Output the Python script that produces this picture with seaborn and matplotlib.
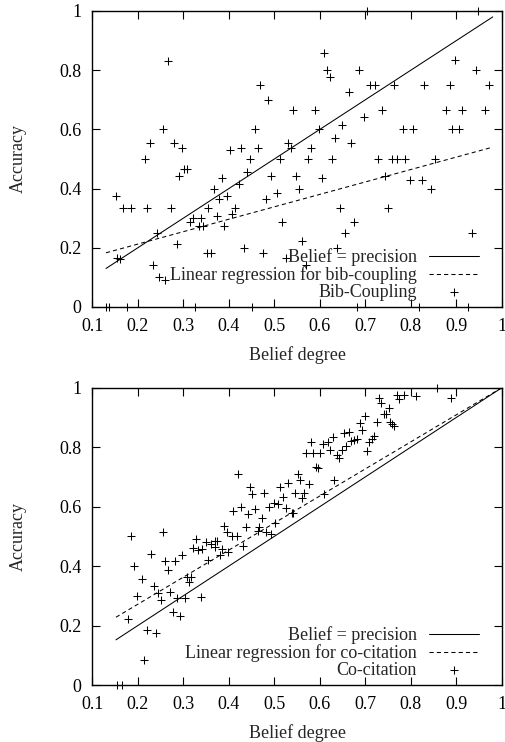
import numpy as np
import pandas as pd
import matplotlib
matplotlib.use("Agg")
import matplotlib.pyplot as plt
import seaborn as sns

# bib-coupling: belief degree vs accuracy
bib_x = [0.216, 0.227, 0.255, 0.266, 0.280, 0.296, 0.302, 0.309, 0.402, 0.427,
         0.446, 0.457, 0.464, 0.469, 0.487, 0.512, 0.530, 0.536, 0.542, 0.589,
         0.609, 0.615, 0.622, 0.663, 0.687, 0.703, 0.710, 0.721, 0.762, 0.829,
         0.885, 0.897, 0.943, 0.948, 0.971, 0.696, 0.737, 0.877, 0.913, 0.963,
         0.649, 0.598, 0.782, 0.805, 0.891, 0.906, 0.633, 0.668, 0.581, 0.575,
         0.627, 0.727, 0.758, 0.770, 0.788, 0.852, 0.151, 0.168, 0.184, 0.221,
         0.274, 0.155, 0.161, 0.233, 0.247, 0.260, 0.243, 0.285, 0.291, 0.315,
         0.322, 0.338, 0.334, 0.344, 0.355, 0.351, 0.361, 0.367, 0.373, 0.378,
         0.385, 0.389, 0.397, 0.408, 0.413, 0.422, 0.433, 0.440, 0.475, 0.481,
         0.493, 0.506, 0.516, 0.525, 0.129, 0.137, 0.176, 0.326, 0.452, 0.547,
         0.554, 0.604, 0.561, 0.570, 0.638, 0.644, 0.655, 0.675, 0.744, 0.750,
         0.798, 0.824, 0.844, 0.935, 0.681, 0.818, 0.926]
bib_y = [0.50, 0.555, 0.60, 0.83, 0.555, 0.537, 0.465, 0.465, 0.532, 0.537,
         0.50, 0.60, 0.537, 0.75, 0.70, 0.50, 0.555, 0.537, 0.667, 0.667,
         0.857, 0.80, 0.778, 0.727, 0.80, 1.0, 0.75, 0.75, 0.75, 0.75,
         0.75, 0.833, 0.80, 1.0, 0.75, 0.643, 0.667, 0.667, 0.667, 0.667,
         0.615, 0.60, 0.60, 0.60, 0.60, 0.60, 0.571, 0.555, 0.537, 0.50,
         0.50, 0.50, 0.50, 0.50, 0.50, 0.50, 0.375, 0.333, 0.333, 0.333,
         0.333, 0.167, 0.162, 0.143, 0.10, 0.091, 0.25, 0.214, 0.444, 0.286,
         0.30, 0.30, 0.273, 0.273, 0.333, 0.182, 0.182, 0.40, 0.308, 0.364,
         0.435, 0.273, 0.375, 0.314, 0.333, 0.417, 0.20, 0.455, 0.182, 0.364,
         0.444, 0.385, 0.286, 0.167, 0.0, 0.0, 0.0, 0.0, 0.0, 0.444,
         0.40, 0.435, 0.222, 0.143, 0.20, 0.333, 0.25, 0.286, 0.444, 0.333,
         0.429, 0.429, 0.40, 0.25, 0.0, 0.0, 0.0]

# co-citation: belief degree vs accuracy
cocit_x = [0.185, 0.256, 0.328, 0.421, 0.447, 0.452, 0.478, 0.513, 0.529, 0.519,
           0.427, 0.410, 0.457, 0.442, 0.472, 0.488, 0.500, 0.509, 0.525, 0.390,
           0.395, 0.437, 0.466, 0.406, 0.417, 0.464, 0.482, 0.493, 0.502, 0.192,
           0.229, 0.209, 0.198, 0.178, 0.235, 0.244, 0.250, 0.221, 0.241, 0.214,
           0.260, 0.266, 0.282, 0.298, 0.271, 0.277, 0.287, 0.293, 0.303, 0.307,
           0.316, 0.313, 0.339, 0.322, 0.332, 0.340, 0.349, 0.360, 0.369, 0.375,
           0.370, 0.384, 0.354, 0.381, 0.399, 0.431, 0.154, 0.166, 0.551, 0.556,
           0.576, 0.545, 0.565, 0.560, 0.538, 0.540, 0.610, 0.631, 0.592, 0.596,
           0.570, 0.586, 0.601, 0.581, 0.606, 0.617, 0.628, 0.622, 0.638, 0.642,
           0.648, 0.652, 0.663, 0.658, 0.669, 0.675, 0.681, 0.688, 0.693, 0.699,
           0.704, 0.709, 0.714, 0.720, 0.725, 0.729, 0.735, 0.740, 0.745, 0.751,
           0.755, 0.759, 0.762, 0.770, 0.775, 0.785, 0.811, 0.857, 0.888]
cocit_y = [0.50, 0.513, 0.49, 0.71, 0.667, 0.643, 0.645, 0.667, 0.678, 0.632,
           0.60, 0.585, 0.593, 0.574, 0.562, 0.60, 0.611, 0.608, 0.596, 0.534,
           0.515, 0.532, 0.532, 0.50, 0.50, 0.518, 0.515, 0.507, 0.546, 0.40,
           0.44, 0.357, 0.30, 0.222, 0.333, 0.308, 0.286, 0.184, 0.175, 0.085,
           0.417, 0.387, 0.417, 0.438, 0.314, 0.246, 0.293, 0.231, 0.293, 0.364,
           0.364, 0.345, 0.296, 0.462, 0.454, 0.457, 0.48, 0.474, 0.484, 0.484,
           0.463, 0.457, 0.42, 0.438, 0.449, 0.466, 0.0, 0.0, 0.709, 0.689,
           0.676, 0.646, 0.646, 0.63, 0.579, 0.579, 0.644, 0.689, 0.734, 0.729,
           0.782, 0.78, 0.782, 0.819, 0.812, 0.816, 0.833, 0.79, 0.772, 0.765,
           0.79, 0.846, 0.85, 0.804, 0.821, 0.823, 0.827, 0.88, 0.859, 0.904,
           0.786, 0.818, 0.829, 0.837, 0.885, 0.964, 0.95, 0.913, 0.913, 0.932,
           0.885, 0.877, 0.871, 0.977, 0.961, 0.977, 0.971, 1.0, 0.966]

# end points of the straight lines
bib_line_x = [0.13, 0.98]
bib_reg_y = [0.183, 0.54]
cocit_line_x = [0.152, 1.0]
cocit_reg_y = [0.228, 1.0]

xticks = [0.1, 0.2, 0.3, 0.4, 0.5, 0.6, 0.7, 0.8, 0.9, 1.0]
xtick_labels = ["0.1", "0.2", "0.3", "0.4", "0.5", "0.6", "0.7", "0.8", "0.9", "1"]
yticks = [0, 0.2, 0.4, 0.6, 0.8, 1.0]
ytick_labels = ["0", "0.2", "0.4", "0.6", "0.8", "1"]

sns.set_style("ticks")
plt.rcParams['font.family'] = ['Liberation Serif', 'DejaVu Serif']
FS = 13

fig = plt.figure(figsize=(5.05, 7.42), dpi=100)
ax1 = fig.add_axes([0.1828, 0.5863, 0.811, 0.3989])
ax2 = fig.add_axes([0.1828, 0.0768, 0.811, 0.4007])

panels = [
    (ax1, bib_x, bib_y, bib_line_x, bib_reg_y,
     "Linear regression for bib-coupling", "Bib-Coupling"),
    (ax2, cocit_x, cocit_y, cocit_line_x, cocit_reg_y,
     "Linear regression for co-citation", "Co-citation"),
]

for ax, px, py, lx, ry, reg_label, pts_label in panels:
    sns.lineplot(x=lx, y=lx, ax=ax, color="black", linewidth=0.75,
                 label="Belief = precision")
    sns.lineplot(x=lx, y=ry, ax=ax, color="black", linewidth=0.75,
                 linestyle=(0, (4, 3)), label=reg_label)
    sns.scatterplot(x=px, y=py, ax=ax, marker="+", color="black", s=28,
                    linewidth=0.75, clip_on=False, label=pts_label)

    ax.set_xlim(0.1, 1.0)
    ax.set_ylim(0, 1.0)
    ax.set_xticks(xticks)
    ax.set_xticklabels(xtick_labels)
    ax.set_yticks(yticks)
    ax.set_yticklabels(ytick_labels)
    ax.tick_params(direction="in", top=True, right=True, length=5.5,
                   width=0.8, labelsize=FS, pad=8, colors="black")
    for sp in ax.spines.values():
        sp.set_visible(True)
        sp.set_linewidth(1.0)
        sp.set_color("black")
    ax.set_xlabel("Belief degree", fontsize=FS, labelpad=8)
    ax.set_ylabel("Accuracy", fontsize=FS, labelpad=23)

    ax.legend(loc="lower right", bbox_to_anchor=(0.945, 0.02), frameon=False,
              markerfirst=False, fontsize=FS, handlelength=2.77,
              handletextpad=0.68, labelspacing=0.0, borderpad=0,
              borderaxespad=0)

fig.savefig("out.png", dpi=100)
